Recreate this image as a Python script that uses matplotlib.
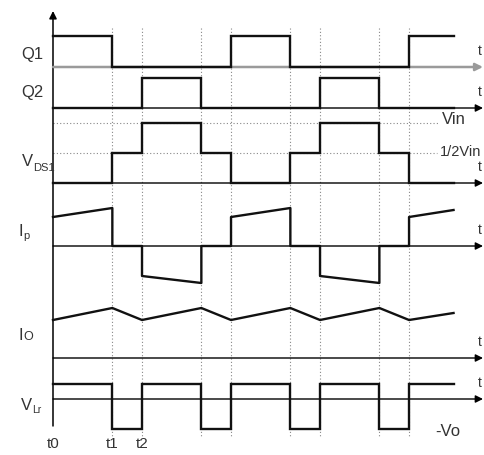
import numpy as np
import matplotlib
matplotlib.use('Agg')
import matplotlib.pyplot as plt

plt.rcParams['font.family'] = ['Liberation Sans', 'DejaVu Sans']

# switching instants (time units), end of the drawn waveforms
edges = [2, 3, 5, 6, 8, 9, 11, 12]
t_end = 13.5

# Q1 / Q2 gate signals (step levels between boundaries)
q1_t = [0, 2, 6, 8, 12, 13.5]
q1_lvl = [1, 0, 1, 0, 1]
q2_t = [0, 3, 5, 9, 11, 13.5]
q2_lvl = [0, 1, 0, 1, 0]

# VDS1 in units of Vin
vds_t = [0, 2, 3, 5, 6, 8, 9, 11, 12, 13.5]
vds_lvl = [0, 0.5, 1, 0.5, 0, 0.5, 1, 0.5, 0]

# primary current Ip (piecewise linear, vertical jumps)
ip_t = [0, 2, 2, 3, 3, 5, 5, 6, 6, 8, 8, 9, 9, 11, 11, 12, 12, 13.5]
ip_v = [29, 38, 0, 0, -30, -37, 0, 0, 29, 38, 0, 0, -30, -37, 0, 0, 29, 36]

# output current Io
io_t = [0, 2, 3, 5, 6, 8, 9, 11, 12, 13.5]
io_v = [38, 50, 38, 50, 38, 50, 38, 50, 38, 45]

# resonant inductor voltage VLr
vlr_t = [0, 2, 3, 5, 6, 8, 9, 11, 12, 13.5]
vlr_lvl = [1, -2, 1, -2, 1, -2, 1, -2, 1]

W, H = 484, 455
X0, UNIT = 53, 29.67   # pixel position of t0, pixels per time unit


def px(x):
    return (x - X0) / UNIT


fig = plt.figure(figsize=(W / 100, H / 100), dpi=100, facecolor='white')
ax = fig.add_axes([0, 0, 1, 1])
ax.set_xlim(px(0), px(W))
ax.set_ylim(H, 0)
ax.axis('off')

ink = '#111111'
txt = '#333333'
sig_lw = 1.7


def step(t, lvl, base, scale, **kw):
    y = [base - scale * v for v in lvl + [lvl[-1]]]
    ax.plot(t, y, drawstyle='steps-post', color=ink, lw=sig_lw,
            solid_joinstyle='miter', zorder=4, **kw)


def haxis(y, color='k', lw=1.0):
    ax.annotate('', xy=(px(483), y), xytext=(0, y),
                arrowprops=dict(arrowstyle='-|>', color=color, lw=lw,
                                mutation_scale=11, shrinkA=0, shrinkB=0),
                zorder=3)


# vertical dotted guides
for e in edges:
    ax.plot([e, e], [28, 438], color='#888888', lw=0.8,
            linestyle=(0, (1, 2)), zorder=1)

# vertical axis
ax.annotate('', xy=(0, 11), xytext=(0, 426),
            arrowprops=dict(arrowstyle='-|>', color='k', lw=1.1,
                            mutation_scale=11, shrinkA=0, shrinkB=0), zorder=3)

# rows: baselines in pixels
b_q1, b_q2, b_vds, b_ip, b_io, b_vlr = 67, 108, 183, 246, 358, 399

haxis(b_q1, color='#9a9a9a', lw=1.8)
haxis(b_q2)
haxis(b_vds)
haxis(b_ip)
haxis(b_io)
haxis(b_vlr)

step(q1_t, q1_lvl, b_q1, 31)
step(q2_t, q2_lvl, b_q2, 30)

# Vin and 1/2 Vin reference levels
ax.plot([0, px(439)], [b_vds - 60, b_vds - 60], color='#888888', lw=0.8,
        linestyle=(0, (1, 2)), zorder=1)
ax.plot([0, px(437)], [b_vds - 30, b_vds - 30], color='#888888', lw=0.8,
        linestyle=(0, (1, 2)), zorder=1)
step(vds_t, vds_lvl, b_vds, 60)

ax.plot(ip_t, [b_ip - v for v in ip_v], color=ink, lw=sig_lw, zorder=4)
ax.plot(io_t, [b_io - v for v in io_v], color=ink, lw=sig_lw, zorder=4)
step(vlr_t, vlr_lvl, b_vlr, 15)

# left labels
fs = 12
ax.text(px(32), 54, 'Q1', fontsize=fs, color=txt, ha='center', va='center')
ax.text(px(32), 93, 'Q2', fontsize=fs, color=txt, ha='center', va='center')
ax.text(px(33), 162, 'V', fontsize=fs, color=txt, ha='right', va='center')
ax.text(px(33), 168, 'DS1', fontsize=8, color=txt, ha='left', va='center')
ax.text(px(23), 231, 'I', fontsize=fs, color=txt, ha='right', va='center')
ax.text(px(23), 236, 'p', fontsize=8, color=txt, ha='left', va='center')
ax.text(px(23), 335, 'I', fontsize=fs, color=txt, ha='right', va='center')
ax.text(px(23), 337, 'O', fontsize=9, color=txt, ha='left', va='center')
ax.text(px(32), 405, 'V', fontsize=fs, color=txt, ha='right', va='center')
ax.text(px(32), 410, 'Lr', fontsize=7.5, color=txt, ha='left', va='center')

# right side labels
ax.text(px(442), 120, 'Vin', fontsize=fs, color=txt, ha='left', va='center')
ax.text(px(440), 152, '1/2Vin', fontsize=10.5, color=txt, ha='left', va='center')
ax.text(px(435), 431, '-Vo', fontsize=fs, color=txt, ha='left', va='center')
for y in [b_q1, b_q2, b_vds, b_ip, b_io, b_vlr]:
    ax.text(px(478), y - 16, 't', fontsize=10, color=txt, ha='left', va='center')

# time labels
ax.text(0, 444, 't0', fontsize=11, color=txt, ha='center', va='center')
ax.text(2, 444, 't1', fontsize=11, color=txt, ha='center', va='center')
ax.text(3, 444, 't2', fontsize=11, color=txt, ha='center', va='center')

fig.savefig('out.png', dpi=100, facecolor='white')
